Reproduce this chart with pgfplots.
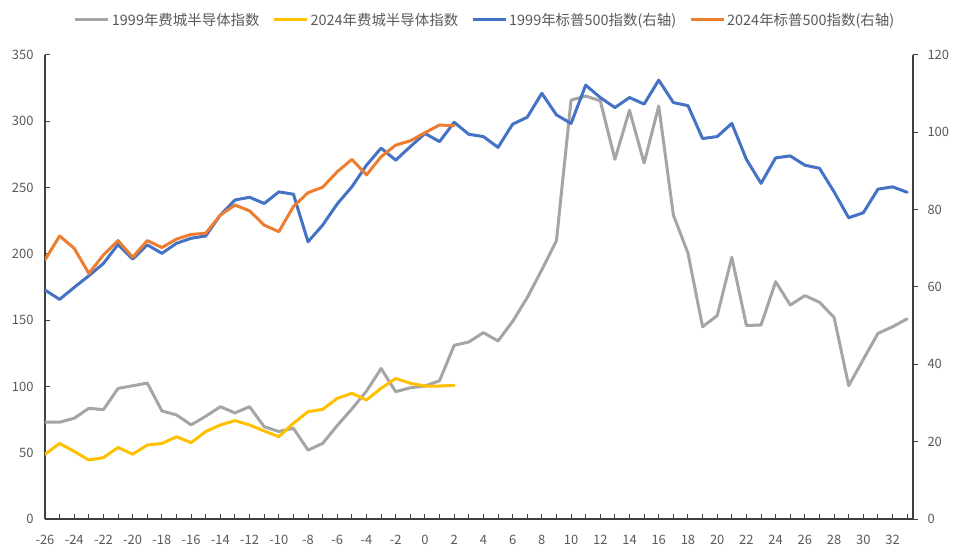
\documentclass[border=0pt]{standalone}
\usepackage{pgfplots}
\pgfplotsset{compat=1.18}
\usepackage{fontspec}
\setmainfont{Noto Sans CJK SC}
\definecolor{cgray}{HTML}{A5A5A5}
\definecolor{cyellow}{HTML}{FFC000}
\definecolor{cblue}{HTML}{4472C4}
\definecolor{corange}{HTML}{ED7D31}
\definecolor{labgray}{HTML}{595959}
\definecolor{axgray}{HTML}{404040}

\pgfplotstableread{
x y
-26 73
-25 73
-24 76
-23 83.5
-22 82.5
-21 98.5
-20 100.5
-19 102.5
-18 81.5
-17 78.5
-16 71
-15 77.5
-14 84.7
-13 80
-12 84.7
-11 69.6
-10 66
-9 68.4
-8 52
-7 57
-6 70.5
-5 83
-4 96.5
-3 113.5
-2 96
-1 99
0 100.3
1 104.3
2 131
3 133.5
4 140.6
5 134.3
6 149
7 167
8 188
9 210
10 316
11 319
12 315.5
13 271.3
14 308.3
15 268.5
16 311.5
17 229.3
18 200.5
19 145
20 153.4
21 197.4
22 146
23 146.3
24 179
25 161.4
26 168.5
27 163.5
28 152
29 100.6
30 120.4
31 140
32 145
33 151
}\soxA

\pgfplotstableread{
x y
-26 48.8
-25 57
-24 51
-23 44.5
-22 46.3
-21 54
-20 48.8
-19 55.8
-18 57
-17 62
-16 57.6
-15 66
-14 70.9
-13 74.2
-12 70.9
-11 66.4
-10 62.1
-9 72.2
-8 81
-7 82.7
-6 91
-5 94.8
-4 89.8
-3 98.6
-2 106
-1 102.4
0 100.3
1 100.3
2 100.8
}\soxB

\pgfplotstableread{
x y
-26 59.2
-25 56.8
-24 59.9
-23 62.9
-22 66.1
-21 71.0
-20 67.2
-19 70.9
-18 68.7
-17 71.3
-16 72.6
-15 73.2
-14 78.6
-13 82.5
-12 83.2
-11 81.6
-10 84.6
-9 84.0
-8 71.7
-7 76.0
-6 81.5
-5 85.9
-4 91.5
-3 95.9
-2 92.8
-1 96.3
0 99.7
1 97.6
2 102.6
3 99.5
4 98.9
5 96.1
6 102.1
7 103.9
8 110.1
9 104.5
10 102.3
11 112.2
12 109.0
13 106.4
14 109.0
15 107.3
16 113.5
17 107.7
18 106.9
19 98.4
20 98.9
21 102.3
22 93.0
23 86.8
24 93.4
25 93.9
26 91.5
27 90.7
28 84.6
29 77.9
30 79.2
31 85.3
32 85.9
33 84.5
}\spxA

\pgfplotstableread{
x y
-26 67.0
-25 73.2
-24 70.0
-23 63.5
-22 68.3
-21 72.0
-20 67.7
-19 72.0
-18 70.2
-17 72.4
-16 73.6
-15 73.9
-14 78.6
-13 81.2
-12 79.7
-11 76.0
-10 74.3
-9 80.8
-8 84.4
-7 85.8
-6 89.8
-5 93.0
-4 89.0
-3 93.7
-2 96.7
-1 97.8
0 99.9
1 101.9
2 101.7
}\spxB

\begin{document}
\begin{tikzpicture}
\path[use as bounding box] (-45bp,-39bp) rectangle (915bp,519bp);
\pgfplotsset{
  base/.style={
    at={(0,0)}, anchor=south west,
    scale only axis, width=868bp, height=464bp,
    xmin=-26, xmax=33.4,
    /pgf/number format/assume math mode=true,
    tick label style={font=\fontsize{13}{15}\selectfont, text=labgray},
    axis line style={line width=1.3bp, color=axgray},
    major tick style={line width=1bp, color=axgray},
    minor tick style={line width=1bp, color=axgray},
    major tick length=5bp, minor tick length=5bp,
  },
  ser/.style={line width=3bp, line join=round, line cap=round},
}
\begin{axis}[base,
  ymin=0, ymax=350,
  axis y line*=left, axis x line*=bottom,
  xtick={-26,-24,...,32}, minor xtick={-25,-23,...,33},
  ytick={0,50,...,350},
  tick align=inside,
  xticklabel style={yshift=-13bp},
  yticklabel style={xshift=-8bp},
]
\addplot[ser, cgray] table[x=x,y=y] {\soxA};
\addplot[ser, cyellow] table[x=x,y=y] {\soxB};
\end{axis}
\begin{axis}[base,
  ymin=0, ymax=120,
  axis y line*=right, axis x line=none,
  ytick={0,20,...,120},
  tick align=outside,
  yticklabel style={xshift=6bp},
  legend columns=4,
  legend style={draw=none, fill=none, at={(0.507,1)}, anchor=center, yshift=35bp,
    font=\fontsize{14.5}{16}\selectfont, text=labgray,
    /tikz/every even column/.append style={column sep=11bp}},
  legend image code/.code={\draw[#1, line width=3bp, line cap=butt] (0bp,0bp) -- (33bp,0bp);},
]
\addlegendimage{cgray}
\addlegendentry{1999年费城半导体指数}
\addlegendimage{cyellow}
\addlegendentry{2024年费城半导体指数}
\addplot[ser, cblue] table[x=x,y=y] {\spxA};
\addlegendentry{1999年标普500指数(右轴)}
\addplot[ser, corange] table[x=x,y=y] {\spxB};
\addlegendentry{2024年标普500指数(右轴)}
\end{axis}
\end{tikzpicture}
\end{document}
